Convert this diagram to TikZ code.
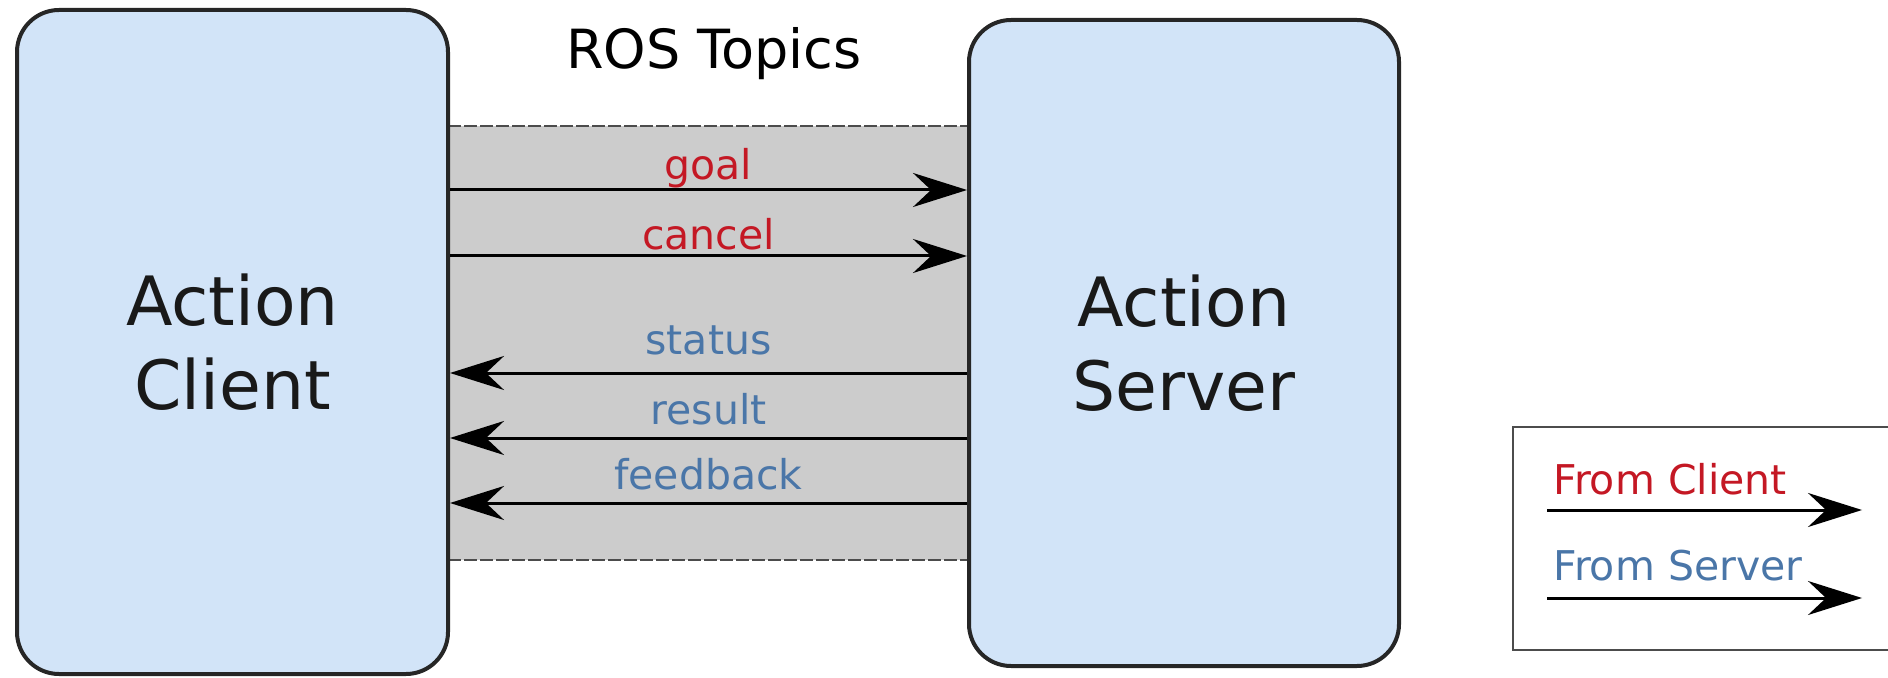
\documentclass[tikz,border=0pt]{standalone}
\usepackage{fontspec}
\setmainfont{DejaVu Sans}
\usetikzlibrary{arrows.meta,positioning}

\definecolor{boxblue}{RGB}{210,228,248}
\definecolor{bandgray}{RGB}{204,204,204}
\definecolor{fromclient}{RGB}{196,24,36}
\definecolor{fromserver}{RGB}{74,118,168}

\tikzset{
  actor/.style={draw=black!85, line width=2pt, fill=boxblue, rounded corners=21pt,
    align=center, text=black!90, font=\fontsize{34}{42}\selectfont},
  topic/.style={line width=1.5pt, -{Stealth[length=27pt,width=17pt,inset=9pt]}},
  topiclabel/.style={anchor=base, inner sep=0pt, font=\fontsize{20.5}{24}\selectfont},
  bandedge/.style={draw=black!70, line width=1pt, dash pattern=on 6.5pt off 1.5pt},
  legendtext/.style={anchor=base west, inner sep=0pt, font=\fontsize{20.5}{24}\selectfont}
}

\begin{document}
\begin{tikzpicture}[x=0.5pt,y=-0.5pt]
\useasboundingbox (0,0) rectangle (1888,678);
\clip (0,0) rectangle (1888,678);

% band of topics
\fill[bandgray] (448,126) rectangle (969,560);
\draw[bandedge] (448,126) -- (969,126);
\draw[bandedge] (448,560) -- (969,560);

\node[actor, minimum width=215.5pt, minimum height=332pt] (client) at (232.5,342) {Action\\Client};
\node[actor, minimum width=215pt, minimum height=323pt] (server) at (1184,343) {Action\\Server};

\node[font=\fontsize{27}{32}\selectfont] (topics) at (714,54) {ROS Topics};

% heights of the topics
\coordinate (goal) at (0,190);
\coordinate (cancel) at (0,256);
\coordinate (status) at (0,373);
\coordinate (result) at (0,438);
\coordinate (feedback) at (0,503);

\draw[topic] (client.east |- goal) -- (server.west |- goal)
  node[topiclabel, midway, yshift=5pt, text=fromclient] {goal};
\draw[topic] (client.east |- cancel) -- (server.west |- cancel)
  node[topiclabel, midway, yshift=3pt, text=fromclient] {cancel};
\draw[topic] (server.west |- status) -- (client.east |- status)
  node[topiclabel, midway, yshift=9pt, text=fromserver] {status};
\draw[topic] (server.west |- result) -- (client.east |- result)
  node[topiclabel, midway, yshift=7pt, text=fromserver] {result};
\draw[topic] (server.west |- feedback) -- (client.east |- feedback)
  node[topiclabel, midway, yshift=7pt, text=fromserver] {feedback};

% legend
\draw[black!70, line width=1pt] (1513,427) rectangle (1900,650);
\node[legendtext, text=fromclient] (lgclient) at (1553,494) {From Client};
\node[legendtext, text=fromserver] (lgserver) at (1553,580) {From Server};
\coordinate (lc0) at (1547,510);
\coordinate (lc1) at (1862,510);
\coordinate (ls0) at (1547,598);
\coordinate (ls1) at (1862,598);
\draw[topic] (lc0) -- (lc1);
\draw[topic] (ls0) -- (ls1);

\end{tikzpicture}
\end{document}
